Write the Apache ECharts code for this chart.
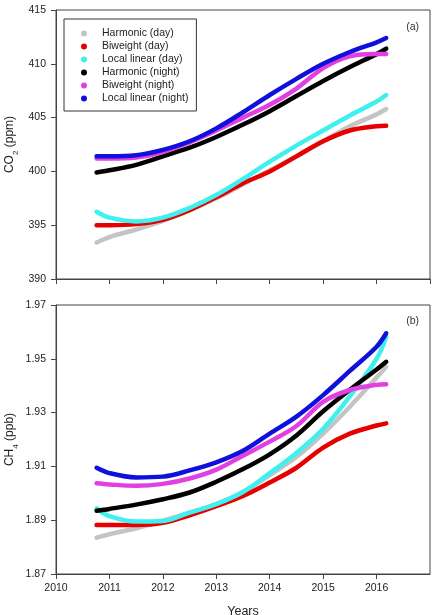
<!DOCTYPE html>
<html>
<head>
<meta charset="utf-8">
<script src="https://cdn.jsdelivr.net/npm/echarts@6/dist/echarts.min.js"></script>
<style>
  html, body { margin: 0; padding: 0; background: #fff; }
  #chart { width: 436px; height: 615px; }
</style>
</head>
<body>
<div id="chart"></div>
<script>
// sample positions (decimal years)
const years = [2010.76, 2011, 2011.5, 2012, 2012.5, 2013, 2013.5, 2014, 2014.5, 2015, 2015.5, 2016, 2016.18];

const seriesNames = [
  "Harmonic (day)", "Biweight (day)", "Local linear (day)",
  "Harmonic (night)", "Biweight (night)", "Local linear (night)"
];
const seriesColors = ["#c4c4c4", "#e60000", "#3ef0f0", "#000000", "#e23fe2", "#1010dd"];

// panel (a): CO2 (ppm)
const co2 = [
  [393.4, 393.9, 394.6, 395.4, 396.4, 397.5, 398.8, 400.1, 401.4, 402.8, 404.2, 405.3, 405.8],
  [395.0, 395.0, 395.1, 395.5, 396.4, 397.6, 398.9, 400.0, 401.4, 402.8, 403.8, 404.2, 404.25],
  [396.25, 395.7, 395.35, 395.7, 396.6, 397.8, 399.3, 400.9, 402.4, 403.8, 405.2, 406.5, 407.1],
  [399.9, 400.1, 400.6, 401.4, 402.2, 403.2, 404.35, 405.6, 407.0, 408.4, 409.7, 410.9, 411.4],
  [401.2, 401.2, 401.3, 401.8, 402.7, 403.8, 405.0, 406.2, 407.7, 409.6, 410.7, 410.9, 410.9],
  [401.4, 401.4, 401.5, 402.0, 402.8, 404.0, 405.5, 407.1, 408.6, 410.0, 411.1, 412.0, 412.4]
];

// panel (b): CH4 (ppb)
const ch4 = [
  [1.8835, 1.8848, 1.8870, 1.8898, 1.8928, 1.8960, 1.9005, 1.9068, 1.9135, 1.9222, 1.9322, 1.9430, 1.9470],
  [1.8882, 1.8882, 1.8882, 1.8890, 1.8918, 1.8952, 1.8990, 1.9040, 1.9095, 1.9170, 1.9222, 1.9252, 1.9260],
  [1.8944, 1.8915, 1.8895, 1.8897, 1.8928, 1.8960, 1.9005, 1.9075, 1.9150, 1.9240, 1.9360, 1.9500, 1.9580],
  [1.8935, 1.8942, 1.8958, 1.8978, 1.9003, 1.9043, 1.9090, 1.9145, 1.9215, 1.9305, 1.9385, 1.9460, 1.9489],
  [1.9037, 1.9033, 1.9028, 1.9035, 1.9055, 1.9088, 1.9140, 1.9192, 1.9250, 1.9340, 1.9384, 1.9403, 1.9405],
  [1.9095, 1.9075, 1.9059, 1.9062, 1.9085, 1.9115, 1.9158, 1.9222, 1.9285, 1.9365, 1.9455, 1.9545, 1.9595]
];

const FONT = "Liberation Sans, Arial, sans-serif";
const AXIS_COLOR = "#444";

const chart = echarts.init(document.getElementById("chart"));

function makeXAxis(gridIndex, showLabels) {
  return {
    type: "value",
    gridIndex,
    min: 2010,
    max: 2017,
    interval: 1,
    splitLine: { show: false },
    axisLine: { lineStyle: { color: AXIS_COLOR, width: 1 } },
    axisTick: { length: 5, lineStyle: { color: AXIS_COLOR } },
    axisLabel: {
      show: showLabels,
      margin: 9,
      color: "#222",
      fontFamily: FONT,
      fontSize: 10.5,
      showMaxLabel: false,
      formatter: (v) => String(v)
    },
    name: showLabels ? "Years" : "",
    nameLocation: "middle",
    nameGap: 31,
    nameMoveOverlap: false,
    nameTextStyle: { color: "#222", fontFamily: FONT, fontSize: 12.5 }
  };
}

function makeYAxis(gridIndex, min, max, interval, digits, name) {
  return {
    type: "value",
    gridIndex,
    min,
    max,
    interval,
    splitLine: { show: false },
    axisLine: { show: true, lineStyle: { color: AXIS_COLOR, width: 1 } },
    axisTick: { show: true, length: 5, lineStyle: { color: AXIS_COLOR } },
    axisLabel: {
      margin: 10,
      color: "#222",
      fontFamily: FONT,
      fontSize: 10.5,
      formatter: (v) => v.toFixed(digits)
    },
    name,
    nameLocation: "middle",
    nameGap: 40,
    nameMoveOverlap: false,
    nameTextStyle: {
      color: "#222",
      fontFamily: FONT,
      fontSize: 12,
      rich: {
        sub: { fontSize: 8, fontFamily: FONT, color: "#222", verticalAlign: "bottom", padding: [0, 0, -4, 0] }
      }
    }
  };
}

function makeSeries(values, axisIndex) {
  return values.map((vals, i) => ({
    name: seriesNames[i],
    type: "line",
    xAxisIndex: axisIndex,
    yAxisIndex: axisIndex,
    data: years.map((x, j) => [x, vals[j]]),
    smooth: 0.35,
    showSymbol: false,
    symbol: "circle",
    color: seriesColors[i],
    lineStyle: { width: 4.5, color: seriesColors[i], cap: "round" },
    animation: false
  }));
}

chart.setOption({
  backgroundColor: "#fff",
  animation: false,
  title: [
    { text: "(a)", right: 12, top: 17, textStyle: { fontFamily: FONT, fontSize: 10.5, fontWeight: "normal", color: "#333" } },
    { text: "(b)", right: 12, top: 311, textStyle: { fontFamily: FONT, fontSize: 10.5, fontWeight: "normal", color: "#333" } }
  ],
  legend: {
    data: seriesNames,
    orient: "vertical",
    left: 64,
    top: 19,
    icon: "circle",
    itemWidth: 26,
    itemHeight: 6,
    itemGap: 0,
    padding: [8, 8, 6, 17],
    backgroundColor: "#fff",
    borderColor: "#333",
    borderWidth: 1,
    textStyle: { fontFamily: FONT, fontSize: 10.5, color: "#222", lineHeight: 13 }
  },
  grid: [
    { left: 56, right: 6, top: 10, height: 269, outerBoundsMode: "none", containLabel: false, show: true, borderColor: AXIS_COLOR, borderWidth: 1, backgroundColor: "transparent" },
    { left: 56, right: 6, top: 305, height: 269, outerBoundsMode: "none", containLabel: false, show: true, borderColor: AXIS_COLOR, borderWidth: 1, backgroundColor: "transparent" }
  ],
  xAxis: [makeXAxis(0, false), makeXAxis(1, true)],
  yAxis: [
    makeYAxis(0, 390, 415, 5, 0, "CO{sub|2} (ppm)"),
    makeYAxis(1, 1.87, 1.97, 0.02, 2, "CH{sub|4} (ppb)")
  ],
  series: [...makeSeries(co2, 0), ...makeSeries(ch4, 1)]
});
</script>
</body>
</html>
